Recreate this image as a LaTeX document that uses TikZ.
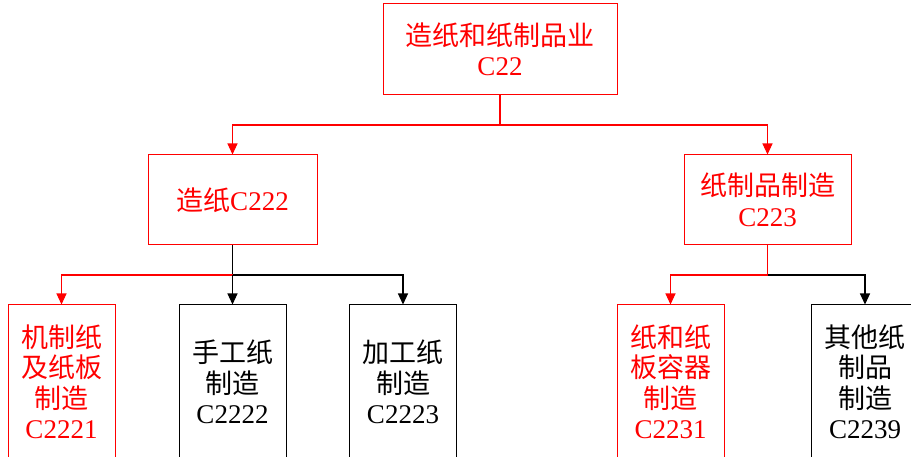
\documentclass[tikz,border=0pt]{standalone}
\usepackage{fontspec}
\setmainfont{Liberation Serif}
\newfontfamily\cjk{Noto Sans CJK SC}
\newcommand\zh[1]{{\cjk #1}}
\usetikzlibrary{arrows.meta}
\definecolor{rd}{RGB}{255,0,0}
\tikzset{
  box/.style={draw, line width=1pt, inner sep=0pt, align=center,
    font=\fontsize{27}{30.5}\selectfont},
  redbox/.style={box, draw=rd, text=rd},
  blackbox/.style={box, draw=black, text=black},
  link/.style={line width=1.1pt, -{Triangle[width=10pt,length=11pt]}},
  redlink/.style={link, draw=rd},
  blacklink/.style={link, draw=black}
}
\begin{document}
\begin{tikzpicture}[x=1pt,y=-1pt]
\useasboundingbox (0,0) rectangle (911,457);
\fill[white] (0,0) rectangle (911,457);
% nodes
\node[redbox, minimum width=234pt, minimum height=91pt] (top) at (500,49.5) {\zh{造纸和纸制品业}\\C22};
\node[redbox, minimum width=169pt, minimum height=90pt] (midL) at (232.5,200) {\zh{造纸}C222};
\node[redbox, minimum width=167pt, minimum height=90pt] (midR) at (767.5,200) {\zh{纸制品制造}\\C223};
\node[redbox, minimum width=107pt, minimum height=154pt] (b1) at (61.5,382) {\zh{机制纸}\\\zh{及纸板}\\\zh{制造}\\C2221};
\node[blackbox, minimum width=107pt, minimum height=154pt] (b2) at (232.5,382) {\zh{手工纸}\\\zh{制造}\\C2222};
\node[blackbox, minimum width=107pt, minimum height=154pt] (b3) at (403,382) {\zh{加工纸}\\\zh{制造}\\C2223};
\node[redbox, minimum width=107pt, minimum height=154pt] (b4) at (670.5,382) {\zh{纸和纸}\\\zh{板容器}\\\zh{制造}\\C2231};
\node[blackbox, minimum width=107pt, minimum height=154pt] (b5) at (865,382) {\zh{其他纸}\\\zh{制品}\\\zh{制造}\\C2239};
% junctions
\coordinate (j1) at (500,125);
\coordinate (j2) at (232.5,275);
\coordinate (j3) at (767.5,275);
% connectors
\draw[rd, line width=1.1pt] (top.south) -- (j1);
\draw[redlink] (j1) -| (midL.north);
\draw[redlink] (j1) -| (midR.north);
\draw[black, line width=1.1pt] (midL.south) -- (j2);
\draw[redlink] (j2) -| (b1.north);
\draw[blacklink] (j2) -| (b2.north);
\draw[blacklink] (j2) -| (b3.north);
\draw[rd, line width=1.1pt] (midR.south) -- (j3);
\draw[redlink] (j3) -| (b4.north);
\draw[blacklink] (j3) -| (b5.north);
\end{tikzpicture}
\end{document}
